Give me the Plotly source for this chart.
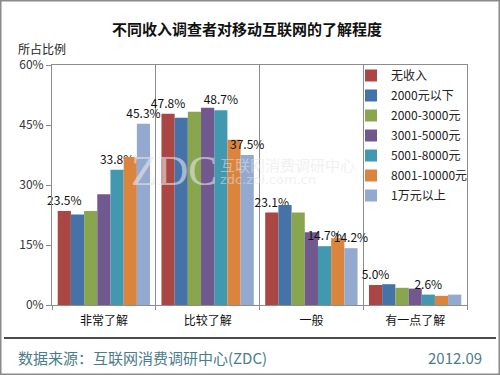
import plotly.graph_objects as go

categories = ["非常了解", "比较了解", "一般", "有一点了解"]
series_names = ["无收入", "2000元以下", "2000-3000元", "3001-5000元",
                "5001-8000元", "8001-10000元", "1万元以上"]
v_none = [23.5, 47.8, 23.1, 5.0]
v_lt2000 = [22.6, 46.8, 25.0, 5.2]
v_2000_3000 = [23.5, 48.3, 23.1, 4.3]
v_3001_5000 = [27.7, 49.3, 18.2, 4.1]
v_5001_8000 = [33.8, 48.7, 14.7, 2.6]
v_8001_10000 = [37.0, 41.3, 16.7, 2.3]
v_10000plus = [45.3, 37.5, 14.2, 2.6]
series_values = [v_none, v_lt2000, v_2000_3000, v_3001_5000,
                 v_5001_8000, v_8001_10000, v_10000plus]
# which points carry a data label in the reference
label_flags = [
    [1, 1, 1, 1],
    [0, 0, 0, 0],
    [0, 0, 0, 0],
    [0, 0, 0, 0],
    [1, 1, 1, 1],
    [0, 0, 0, 0],
    [1, 1, 1, 0],
]
colors = ["#AA4643", "#4572A7", "#89A54E", "#71588F",
          "#4198AF", "#DB843D", "#93A9CF"]

FONT = "Noto Sans CJK SC"
W, H = 500, 375
ML, MR, MT, MB = 52, 33, 65, 70
PW, PH = W - ML - MR, H - MT - MB

fig = go.Figure()
for i, (name, vals, flags, col) in enumerate(zip(series_names, series_values, label_flags, colors)):
    fig.add_trace(go.Bar(
        name=name, x=categories, y=vals, legendgroup=f"g{i}",
        marker=dict(color=col, line=dict(width=0)),
        text=[f"{v:.1f}%" if f else "" for v, f in zip(vals, flags)],
        textposition="outside", constraintext="none", cliponaxis=False,
        textfont=dict(family=FONT, size=12, color="#111"),
        hoverinfo="skip",
    ))

def px_x(x):
    return (x - ML) / PW

def px_y(y):
    return 1 - (y - MT) / PH

fig.update_layout(
    width=W, height=H,
    margin=dict(l=ML, r=MR, t=MT, b=MB),
    paper_bgcolor="white", plot_bgcolor="white",
    barmode="group", bargap=0.11, bargroupgap=0,
    font=dict(family=FONT, size=12, color="#222"),
    title=dict(text="<b>不同收入调查者对移动互联网的了解程度</b>",
               x=px_x(247), xref="paper", xanchor="center",
               y=1 - 30 / H, yanchor="middle",
               font=dict(family=FONT, size=15, color="#111")),
    showlegend=True,
    legend=dict(x=px_x(351), y=px_y(61), xanchor="left", yanchor="top",
                bgcolor="rgba(0,0,0,0)", borderwidth=0, tracegroupgap=1,
                font=dict(family=FONT, size=12, color="#222"),
                itemwidth=30),
    xaxis=dict(type="category", showline=True, linecolor="#8c8c8c", linewidth=1,
               mirror=True, showgrid=True, gridcolor="#8c8c8c", gridwidth=1,
               tickson="boundaries", ticks="outside", ticklen=4,
               tickcolor="#8c8c8c", ticklabelstandoff=5,
               tickfont=dict(family=FONT, size=12, color="#111"),
               fixedrange=True),
    yaxis=dict(range=[0, 60], dtick=15, ticksuffix="%", showgrid=False,
               showline=True, linecolor="#8c8c8c", linewidth=1, mirror=True,
               ticks="outside", ticklen=5, tickcolor="#8c8c8c",
               tickfont=dict(family=FONT, size=12, color="#333"),
               zeroline=False, fixedrange=True),
)

annotations = [
    dict(text="所占比例", xref="paper", yref="paper", x=px_x(16), y=px_y(48),
         xanchor="left", yanchor="middle", showarrow=False,
         font=dict(family=FONT, size=12, color="#222")),
    dict(text="数据来源：互联网消费调研中心(ZDC)", xref="paper", yref="paper",
         x=px_x(16), y=px_y(357), xanchor="left", yanchor="middle", showarrow=False,
         font=dict(family=FONT, size=15, color="#4A7C8A")),
    dict(text="2012.09", xref="paper", yref="paper",
         x=px_x(484), y=px_y(357), xanchor="right", yanchor="middle", showarrow=False,
         font=dict(family=FONT, size=15, color="#4A7C8A")),
    # watermark
    dict(text="ZDC", xref="paper", yref="paper", x=px_x(174), y=px_y(170),
         xanchor="center", yanchor="middle", showarrow=False,
         font=dict(family="Liberation Serif", size=43, color="rgba(232,232,238,0.6)")),
    dict(text="互联网消费调研中心", xref="paper", yref="paper", x=px_x(218), y=px_y(164),
         xanchor="left", yanchor="middle", showarrow=False,
         font=dict(family=FONT, size=15, color="rgba(228,228,232,0.55)")),
    dict(text="zdc.zol.com.cn", xref="paper", yref="paper", x=px_x(218), y=px_y(179),
         xanchor="left", yanchor="middle", showarrow=False,
         font=dict(family="DejaVu Sans", size=13, color="rgba(228,228,232,0.55)")),
]
fig.update_layout(annotations=annotations)

fig.update_layout(shapes=[
    dict(type="line", xref="paper", yref="paper",
         x0=px_x(4), x1=px_x(496), y0=px_y(338), y1=px_y(338),
         line=dict(color="#111", width=1.5)),
    dict(type="rect", xref="paper", yref="paper",
         x0=px_x(0.5), x1=px_x(499.5), y0=px_y(374.5), y1=px_y(0.5),
         line=dict(color="#8a8a8a", width=2)),
])

fig.write_html("out.html", config={"displayModeBar": False},
               post_script="document.body.style.margin='0';document.body.style.padding='0';")
